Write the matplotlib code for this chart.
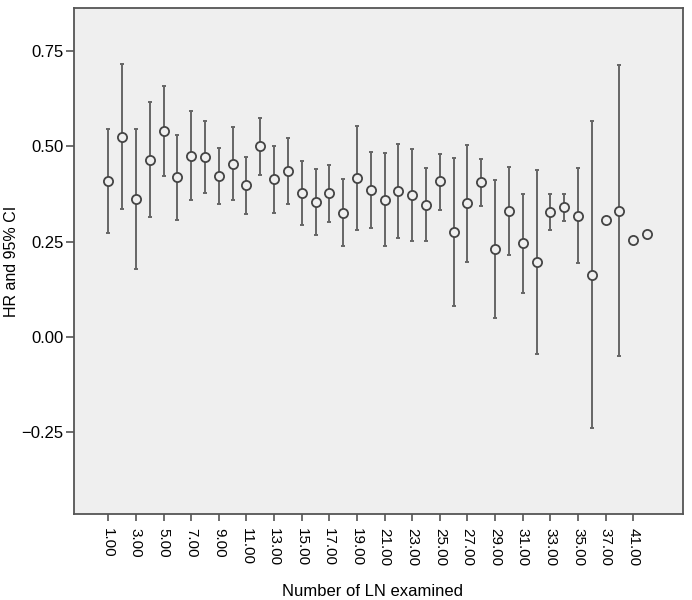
import numpy as np
import matplotlib
matplotlib.use("Agg")
import matplotlib.pyplot as plt

plt.rcParams['font.family'] = ['Liberation Sans', 'DejaVu Sans']

# numero de linfonodos examinados (categorias do eixo x)
ln_examinados = list(range(1, 38)) + [39, 41, 43]

# HR e limites do IC 95% (None = sem intervalo)
hr = [0.409, 0.526, 0.362, 0.465, 0.541, 0.419, 0.475, 0.473, 0.423, 0.454,
      0.399, 0.500, 0.414, 0.436, 0.378, 0.353, 0.377, 0.324, 0.417, 0.386,
      0.360, 0.382, 0.373, 0.347, 0.408, 0.275, 0.350, 0.406, 0.231, 0.330,
      0.246, 0.196, 0.327, 0.341, 0.318, 0.162, 0.306, 0.331, 0.254, 0.270]
ic_sup = [0.545, 0.717, 0.545, 0.616, 0.659, 0.530, 0.593, 0.568, 0.495, 0.551,
          0.472, 0.575, 0.501, 0.521, 0.461, 0.440, 0.451, 0.414, 0.553, 0.485,
          0.483, 0.506, 0.494, 0.444, 0.479, 0.470, 0.503, 0.468, 0.411, 0.445,
          0.376, 0.437, 0.376, 0.376, 0.444, 0.568, None, 0.714, None, None]
ic_inf = [0.273, 0.335, 0.179, 0.315, 0.423, 0.307, 0.358, 0.378, 0.348, 0.359,
          0.323, 0.425, 0.325, 0.349, 0.294, 0.267, 0.302, 0.238, 0.281, 0.286,
          0.238, 0.260, 0.252, 0.252, 0.334, 0.080, 0.197, 0.344, 0.049, 0.215,
          0.115, -0.045, 0.280, 0.303, 0.194, -0.241, None, -0.051, None, None]

cinza = '#555555'
pos = np.arange(len(ln_examinados))

fig = plt.figure(figsize=(6.92, 6.00), dpi=100)
ax = fig.add_axes([0.1075, 0.1428, 0.8791, 0.8444])
ax.set_facecolor('#efefef')

# barras de erro apenas onde existe IC
for i in pos:
    if ic_sup[i] is None:
        continue
    ax.errorbar(i, hr[i], yerr=[[hr[i] - ic_inf[i]], [ic_sup[i] - hr[i]]],
                fmt='none', ecolor='#666666', elinewidth=1.4, capsize=1.6,
                capthick=1.4, zorder=2)

ax.plot(pos, hr, linestyle='none', marker='o', markersize=6.6,
        markerfacecolor='#efefef', markeredgecolor='#444444',
        markeredgewidth=1.3, zorder=3)

ax.set_xlim(-2.455, 41.585)
ax.set_ylim(-0.4675, 0.865)

ticks_x = pos[::2]
ax.set_xticks(ticks_x)
ax.set_xticklabels(['%.2f' % ln_examinados[i] for i in ticks_x],
                   rotation=-90, fontsize=11)
ax.set_yticks([-0.25, 0.0, 0.25, 0.5, 0.75])
ax.set_yticklabels(['\u22120.25', '0.00', '0.25', '0.50', '0.75'], fontsize=12)
ax.tick_params(axis='x', length=5, width=1.2, color=cinza, pad=5)
ax.tick_params(axis='y', length=6, width=1.2, color=cinza, pad=2)

for s in ax.spines.values():
    s.set_color(cinza)
    s.set_linewidth(1.3)

fig.text(12 / 692, 1 - 261 / 600, 'HR and 95% CI', rotation=90,
         ha='center', va='center', fontsize=11.5)
fig.text(372 / 692, 1 - 592 / 600, 'Number of LN examined',
         ha='center', va='center', fontsize=12)

fig.savefig('out.png', dpi=100)
